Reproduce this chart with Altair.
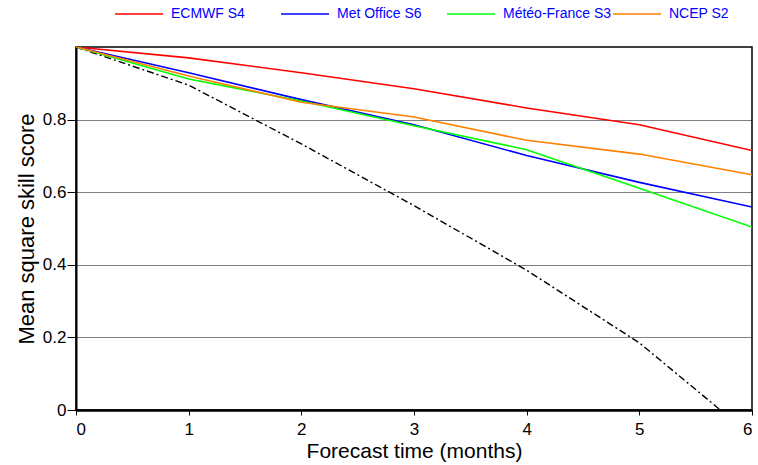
import altair as alt
import pandas as pd

months = [0, 1, 2, 3, 4, 5, 6]
ecmwf = [1.0, 0.970, 0.929, 0.885, 0.832, 0.786, 0.715]
metoffice = [1.0, 0.929, 0.855, 0.786, 0.701, 0.627, 0.559]
meteofrance = [1.0, 0.912, 0.851, 0.783, 0.717, 0.611, 0.504]
ncep = [1.0, 0.920, 0.848, 0.807, 0.743, 0.705, 0.648]
reference = [1.0, 0.895, 0.733, 0.563, 0.385, 0.185, -0.072]

names = ["ECMWF S4", "Met Office S6", "Météo-France S3", "NCEP S2"]
colors = ["#ff0000", "#0000ff", "#00ff00", "#ff8000"]
series = [ecmwf, metoffice, meteofrance, ncep]

rows = []
for n, s in zip(names, series):
    for m, v in zip(months, s):
        rows.append({"month": m, "value": v, "model": n})
df = pd.DataFrame(rows)
ref_df = pd.DataFrame({"month": months, "value": reference})

font = "Liberation Sans"

x_enc = alt.X("month:Q", scale=alt.Scale(domain=[0, 6], nice=False),
              axis=alt.Axis(title="Forecast time (months)", values=months, format="d",
                            grid=False, tickSize=5, tickColor="black", domainColor="black",
                            domainWidth=2.5, labelFontSize=17, titleFontSize=21,
                            labelColor="black", titleColor="black", labelFont=font,
                            titleFont=font, titlePadding=3, labelPadding=6,
                            titleFontWeight="normal"))
y_enc = alt.Y("value:Q", scale=alt.Scale(domain=[0, 1], nice=False),
              axis=alt.Axis(title="Mean square skill score", values=[0, 0.2, 0.4, 0.6, 0.8],
                            format="~g", grid=True, gridColor="black", gridDash=[1, 1],
                            gridWidth=1, tickSize=9, tickColor="black",
                            domainColor="black", domainWidth=2, labelFontSize=17,
                            titleFontSize=22, labelColor="black", titleColor="black",
                            labelFont=font, titleFont=font, titlePadding=4,
                            labelPadding=1, titleFontWeight="normal"))

lines = alt.Chart(df).mark_line(strokeWidth=1.6, clip=True).encode(
    x=x_enc,
    y=y_enc,
    color=alt.Color("model:N", sort=names,
                    scale=alt.Scale(domain=names, range=colors),
                    legend=alt.Legend(title=None, orient="none", direction="horizontal",
                                      legendX=38, legendY=-58, symbolType="stroke",
                                      symbolSize=2304, symbolStrokeWidth=1.5,
                                      labelColor="#0000ff", labelFontSize=14,
                                      labelFont=font, gridAlign="all",
                                      columnPadding=-12, labelOffset=7)),
)

ref_line = alt.Chart(ref_df).mark_line(color="black", strokeWidth=1.4,
                                       strokeDash=[7, 3, 2, 3], clip=True).encode(
    x="month:Q", y="value:Q")

chart = alt.layer(ref_line, lines).properties(
    width=676, height=363,
    padding={"left": 76, "top": 47, "right": 6, "bottom": 55},
    autosize=alt.AutoSizeParams(type="none"),
    background="white",
).configure_view(stroke="black", strokeWidth=1.5)

chart.save("out.html", embed_options={"renderer": "svg", "actions": False})
